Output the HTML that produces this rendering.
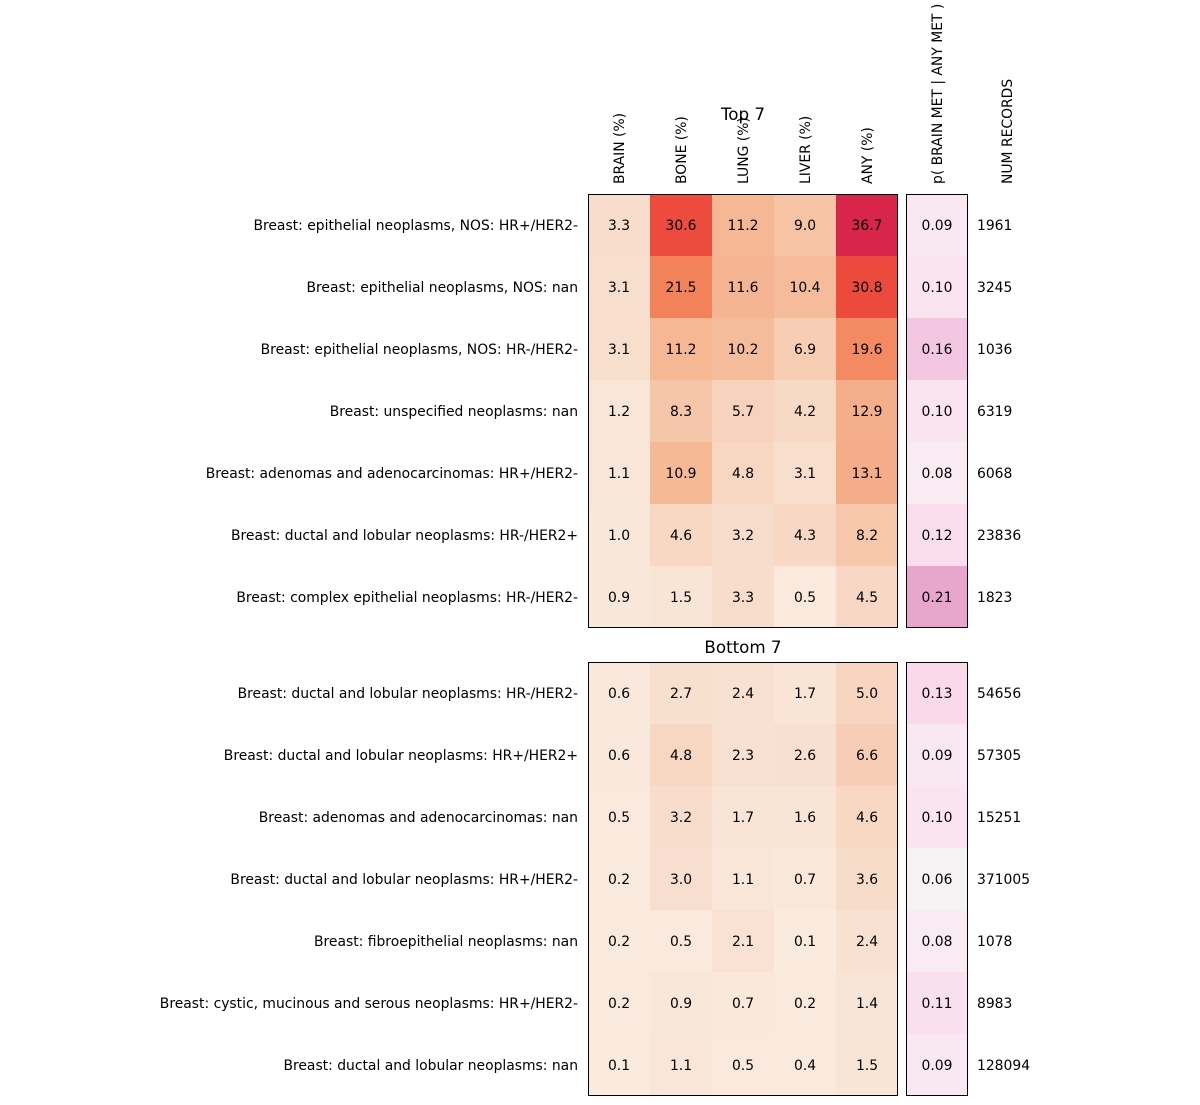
<!DOCTYPE html>
<html><head><meta charset="utf-8"><style>
body{margin:0;background:#fff;}
svg{font-family:"DejaVu Sans","Liberation Sans",sans-serif;}
</style></head><body>
<svg id="chart" width="1200" height="1100" viewBox="0 0 1200 1100" xmlns="http://www.w3.org/2000/svg"></svg>
<script>
const columns = ["BRAIN (%)","BONE (%)","LUNG (%)","LIVER (%)","ANY (%)"];
const topLabels = ["Breast: epithelial neoplasms, NOS: HR+/HER2-","Breast: epithelial neoplasms, NOS: nan","Breast: epithelial neoplasms, NOS: HR-/HER2-","Breast: unspecified neoplasms: nan","Breast: adenomas and adenocarcinomas: HR+/HER2-","Breast: ductal and lobular neoplasms: HR-/HER2+","Breast: complex epithelial neoplasms: HR-/HER2-"];
const topValues = [[3.3,30.6,11.2,9.0,36.7],[3.1,21.5,11.6,10.4,30.8],[3.1,11.2,10.2,6.9,19.6],[1.2,8.3,5.7,4.2,12.9],[1.1,10.9,4.8,3.1,13.1],[1.0,4.6,3.2,4.3,8.2],[0.9,1.5,3.3,0.5,4.5]];
const topP = [0.09,0.10,0.16,0.10,0.08,0.12,0.21];
const topN = [1961,3245,1036,6319,6068,23836,1823];
const botLabels = ["Breast: ductal and lobular neoplasms: HR-/HER2-","Breast: ductal and lobular neoplasms: HR+/HER2+","Breast: adenomas and adenocarcinomas: nan","Breast: ductal and lobular neoplasms: HR+/HER2-","Breast: fibroepithelial neoplasms: nan","Breast: cystic, mucinous and serous neoplasms: HR+/HER2-","Breast: ductal and lobular neoplasms: nan"];
const botValues = [[0.6,2.7,2.4,1.7,5.0],[0.6,4.8,2.3,2.6,6.6],[0.5,3.2,1.7,1.6,4.6],[0.2,3.0,1.1,0.7,3.6],[0.2,0.5,2.1,0.1,2.4],[0.2,0.9,0.7,0.2,1.4],[0.1,1.1,0.5,0.4,1.5]];
const botP = [0.13,0.09,0.10,0.06,0.08,0.11,0.09];
const botN = [54656,57305,15251,371005,1078,8983,128094];

const NS="http://www.w3.org/2000/svg";
const svg=document.getElementById('chart');
const FS=13.9;
function el(t,a,txt){const e=document.createElementNS(NS,t);for(const k in a)e.setAttribute(k,a[k]);if(txt!==undefined)e.textContent=txt;svg.appendChild(e);return e;}
function hex(h){return [1,3,5].map(i=>parseInt(h.substr(i,2),16));}
function interp(stops,v){
  if(v<=stops[0][0])return stops[0][1];
  for(let i=1;i<stops.length;i++){if(v<=stops[i][0]){const a=stops[i-1],b=stops[i];const t=(v-a[0])/(b[0]-a[0]);const c1=hex(a[1]),c2=hex(b[1]);return 'rgb('+c1.map((c,j)=>Math.round(c+(c2[j]-c)*t)).join(',')+')';}}
  return stops[stops.length-1][1];
}
const redStops=[[0,"#faebdf"],[3.3,"#f8ddcc"],[9,"#f6c3a5"],[11.2,"#f5b794"],[19.6,"#f38a62"],[21.5,"#f2825a"],[30.6,"#ec4b3d"],[36.7,"#d7264a"]];
const pinkStops=[[0.06,"#f5f2f4"],[0.09,"#f9e8f1"],[0.10,"#fae4f0"],[0.13,"#f9d9ea"],[0.16,"#f3c6e1"],[0.21,"#e8a6cd"]];
const cellW=62,cellH=62,x0=588,px=906;
function xPos(i){return x0+i*cellW;}
function yPos(y0,r){return y0+r*cellH;}

function panel(y0,labels,vals,ps,ns,title,tag,ty){
  const t=el('text',{x:743,y:ty,'text-anchor':'middle','font-size':16.7,fill:'#000'},title);
  
  
  vals.forEach((row,r)=>{
    row.forEach((v,c)=>{
      const rc=el('rect',{x:xPos(c),y:yPos(y0,r),width:cellW,height:cellH,fill:interp(redStops,v)});
      
      
      const tx=el('text',{x:xPos(c)+cellW/2,y:yPos(y0,r)+cellH/2+5,'text-anchor':'middle','font-size':FS,fill:'#000'},v.toFixed(1));
      
      
    });
    const lb=el('text',{x:578,y:yPos(y0,r)+cellH/2+5,'text-anchor':'end','font-size':FS,fill:'#000'},labels[r]);
    
    
    const pr=el('rect',{x:px,y:yPos(y0,r),width:cellW,height:cellH,fill:interp(pinkStops,ps[r])});
    
    
    const pt=el('text',{x:px+cellW/2,y:yPos(y0,r)+cellH/2+5,'text-anchor':'middle','font-size':FS,fill:'#000'},ps[r].toFixed(2));
    
    
    const nt=el('text',{x:977,y:yPos(y0,r)+cellH/2+5,'font-size':FS,fill:'#000'},String(ns[r]));
    
    
  });
  const h=vals.length*cellH;
  const f1=el('rect',{x:x0+0.5,y:y0+0.5,width:columns.length*cellW-1,height:h-1,fill:'none',stroke:'#000','stroke-width':1});
  
  
  const f2=el('rect',{x:px+0.5,y:y0+0.5,width:cellW-1,height:h-1,fill:'none',stroke:'#000','stroke-width':1});
  
  
}
panel(194,topLabels,topValues,topP,topN,"Top 7","top",120);
panel(662,botLabels,botValues,botP,botN,"Bottom 7","bottom",653);
columns.forEach((c,i)=>{
  const cx=xPos(i)+cellW/2+5;
  const t=el('text',{x:cx,y:184,transform:`rotate(-90 ${cx} 184)`,'font-size':FS,fill:'#000'},c);
  
  
});
{
  const cx=px+cellW/2+5;
  const t=el('text',{x:cx,y:184,transform:`rotate(-90 ${cx} 184)`,'font-size':FS,fill:'#000'},"p( BRAIN MET | ANY MET )");
  
  
  const cx2=1012;
  const t2=el('text',{x:cx2,y:184,transform:`rotate(-90 ${cx2} 184)`,'font-size':FS,fill:'#000'},"NUM RECORDS");
  
  
}
</script>
</body></html>
